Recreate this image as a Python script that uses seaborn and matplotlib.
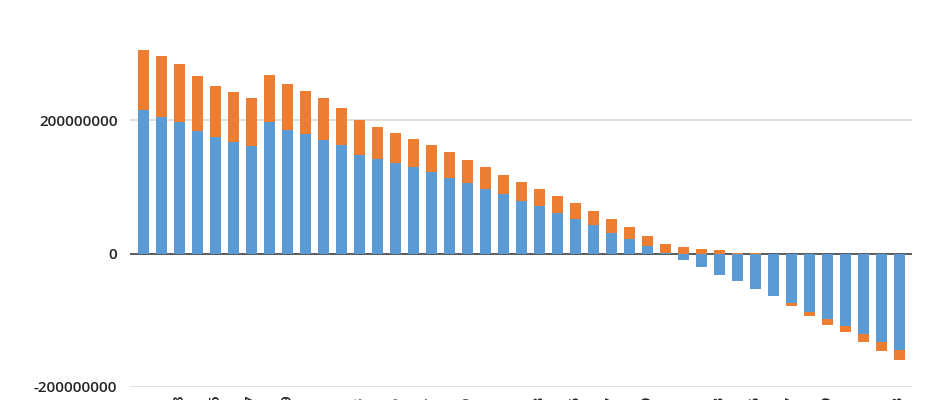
# stacked bar chart, blue + orange series, cropped view

import matplotlib
matplotlib.use('Agg')
import matplotlib.pyplot as plt
import seaborn as sns
import numpy as np
import pandas as pd


# %% data
# -------

categories = [str(i) for i in range(1, 44)]

blue = [214.5, 204.5, 197, 183.5, 174.5, 167, 160.5, 197, 185.5, 178.5,
        169.5, 162, 148, 141, 136, 129.5, 122, 113, 106, 96.5,
        89, 79.5, 71, 61.5, 52, 43, 31, 21.5, 11.5, 1.5,
        -9, -20, -32, -41, -53, -64, -74, -88, -98, -109,
        -121, -133, -145]

orange = [91, 91.5, 87.5, 82, 76.5, 75, 72, 71, 68, 65.5,
          63, 56.5, 51.5, 49, 44.5, 42, 40, 39.5, 34.5, 33,
          28.5, 28, 25.5, 25.5, 23.5, 20.5, 21, 18.5, 14.5, 12.5,
          10, 7.5, 5, 1, 0.5, 0, -4.5, -5, -8.5, -9,
          -11.5, -13.5, -15]

df = pd.DataFrame({'cat': categories,
                   'blue': np.array(blue) * 1e6,
                   'orange': np.array(orange) * 1e6})

# orange stacks on the blue part with the same sign, else from zero
df['base'] = np.where(df.orange >= 0, df.blue.clip(lower=0),
                      df.blue.clip(upper=0))


# %% plot
# -------

sns.set_style('white')
plt.rcParams['font.family'] = ['Open Sans', 'DejaVu Sans']

fig = plt.figure(figsize=(9.4, 4), dpi=100)
ax = fig.add_axes([130 / 940, 13 / 400, 782 / 940, 387 / 400])

sns.barplot(data=df, x='cat', y='blue', color='#5B9BD5', saturation=1,
            width=0.62, linewidth=0, ax=ax, zorder=3)
sns.barplot(data=df, x='cat', y='orange', bottom=df['base'],
            color='#ED7D31', saturation=1, width=0.62, linewidth=0,
            ax=ax, zorder=3)

# grid and zero line
for v in [200e6, -200e6]:
    ax.axhline(v, color='#D9D9D9', lw=1.2, zorder=1)
ax.axhline(0, color='#404040', lw=1.2, zorder=2)

ax.set_ylim(-200e6, 380e6)
ax.set_xlim(-0.74, len(categories) - 1 + 0.71)
ax.set_yticks([200e6, 0, -200e6])
ax.set_yticklabels(['200000000', '0', '-200000000'], fontsize=11,
                   fontweight='semibold', color='#262626')
ax.tick_params(axis='y', length=0, pad=9)

# category labels, mostly cut off by the bottom of the figure
ax.set_xticks(range(0, len(categories), 2))
ax.set_xticklabels(categories[::2], rotation=90, fontsize=11,
                   fontweight='semibold', color='#262626')
ax.tick_params(axis='x', length=0, pad=6)

ax.set_xlabel('')
ax.set_ylabel('')
sns.despine(ax=ax, left=True, bottom=True)

fig.savefig('out.png', dpi=100)
